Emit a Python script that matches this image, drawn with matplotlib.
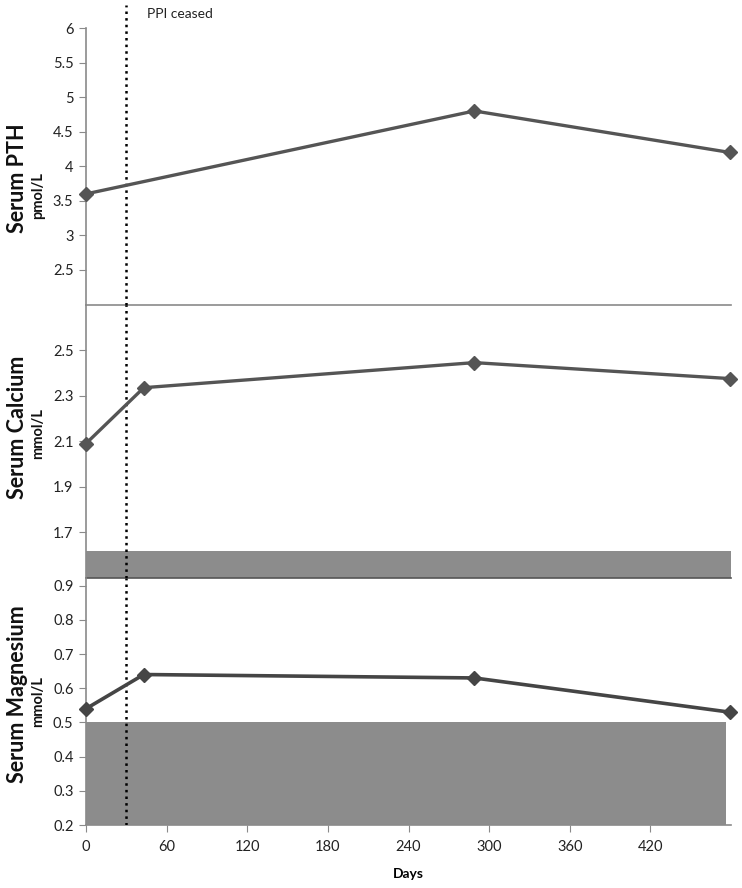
import numpy as np
import matplotlib
matplotlib.use("Agg")
import matplotlib.pyplot as plt

plt.rcParams['font.family'] = ['Lato', 'DejaVu Sans']

# data
pth_days = [0, 289, 479]
pth_vals = [3.6, 4.8, 4.2]

ca_days = [0, 43, 289, 479]
ca_vals = [2.09, 2.335, 2.445, 2.375]

mg_days = [0, 43, 289, 479]
mg_vals = [0.54, 0.64, 0.63, 0.53]

ppi_day = 30
ca_band = (1.5, 1.62)
mg_band = (0.2, 0.5)

x_ticks = [0, 60, 120, 180, 240, 300, 360, 420]
pth_ticks = [2.5, 3, 3.5, 4, 4.5, 5, 5.5, 6]
pth_ticklabels = ['2.5', '3', '3.5', '4', '4.5', '5', '5.5', '6']
ca_ticks = [1.7, 1.9, 2.1, 2.3, 2.5]
mg_ticks = [0.2, 0.3, 0.4, 0.5, 0.6, 0.7, 0.8, 0.9]

line_col = '#555555'
spine_col = '#8a8a8a'
band_col = '#8c8c8c'

W, H = 742, 888
fig = plt.figure(figsize=(W / 100, H / 100), dpi=100)


def px_axes(left, top, right, bottom):
    return fig.add_axes([left / W, 1 - bottom / H, (right - left) / W, (bottom - top) / H])


ax1 = px_axes(86, 28, 731, 304.5)
ax2 = px_axes(86, 304.5, 731, 578)
ax3 = px_axes(86, 578, 731, 825)

for ax in (ax1, ax2, ax3):
    ax.set_xlim(0, 480)
    ax.set_facecolor('none')
    for s in ('top', 'right'):
        ax.spines[s].set_visible(False)
    ax.spines['left'].set_color(spine_col)
    ax.spines['left'].set_linewidth(1.2)
    ax.spines['bottom'].set_color(spine_col)
    ax.spines['bottom'].set_linewidth(1.2)
    ax.tick_params(axis='y', direction='out', length=5, color=spine_col,
                   labelsize=10.5, labelcolor='#222222', pad=4)

# top panel
ax1.set_ylim(2, 6)
ax1.set_yticks(pth_ticks)
ax1.set_yticklabels(pth_ticklabels)
ax1.set_xticks([])
ax1.plot(pth_days, pth_vals, color=line_col, lw=2.4, marker='D', ms=7, zorder=5, clip_on=False)
ax1.axvline(ppi_day, ymin=0, ymax=1 + 23 / 276.5, color='black', ls=':', lw=1.8, clip_on=False, zorder=4)
fig.text(147 / W, 1 - 14 / H, 'PPI ceased', fontsize=10, color='#222222', va='center')

# middle panel
ax2.set_ylim(1.5, 2.7)
ax2.set_yticks(ca_ticks)
ax2.set_yticklabels([f'{v:.1f}' for v in ca_ticks])
ax2.set_xticks([])
ax2.spines['bottom'].set_color('#555555')
ax2.axhspan(ca_band[0], ca_band[1], color=band_col, zorder=1, lw=0)
ax2.plot(ca_days, ca_vals, color=line_col, lw=2.4, marker='D', ms=7, zorder=5, clip_on=False)
ax2.axvline(ppi_day, color='black', ls=':', lw=1.8, zorder=4)

# bottom panel
ax3.set_ylim(0.2, 0.2 + 247 / 342)
ax3.set_yticks(mg_ticks)
ax3.set_yticklabels([f'{v:.1f}' for v in mg_ticks])
ax3.set_xticks(x_ticks)
ax3.tick_params(axis='x', direction='out', length=5, color=spine_col,
                labelsize=10.5, labelcolor='#222222', pad=6)
ax3.axhspan(mg_band[0], mg_band[1], xmax=0.993, color=band_col, zorder=1, lw=0)
ax3.plot(mg_days, mg_vals, color='#454545', lw=2.6, marker='D', ms=7, zorder=5, clip_on=False)
ax3.axvline(ppi_day, color='black', ls=':', lw=1.8, zorder=4)
ax3.set_xlabel('Days', fontsize=10, fontweight='bold', labelpad=10)

# y labels, two lines each (centre of each line in pixels)
labels = [('Serum PTH', 178, 'pmol/L', 196),
          ('Serum Calcium', 427, 'mmol/L', 434),
          ('Serum Magnesium', 694, 'mmol/L', 702)]
for main, y_main, unit, y_unit in labels:
    fig.text(18 / W, 1 - y_main / H, main, rotation=90, fontsize=15.5, fontweight='bold',
             ha='center', va='center', color='#111111')
    fig.text(38 / W, 1 - y_unit / H, unit, rotation=90, fontsize=10.5, fontweight='bold',
             ha='center', va='center', color='#111111')

fig.savefig('out.png', dpi=100)
